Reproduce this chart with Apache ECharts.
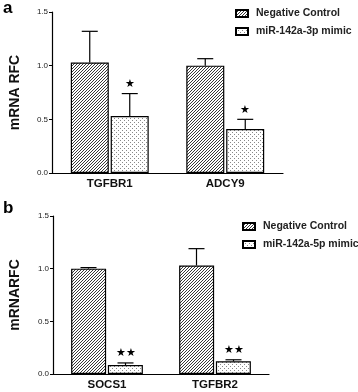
<!DOCTYPE html>
<html><head><meta charset="utf-8">
<script src="https://cdn.jsdelivr.net/npm/echarts@6/dist/echarts.min.js"></script>
<style>html,body{margin:0;padding:0;background:#fff}#c{width:358px;height:392px}</style>
</head><body><div id="c"></div>
<script>
// ---- data ----
var catsA = ['TGFBR1', 'ADCY9'];
var negA = [1.03, 1.00];
var negAErr = [1.32, 1.065];
var mimA = [0.53, 0.41];
var mimAErr = [0.74, 0.50];
var starsA = ['★', '★'];

var catsB = ['SOCS1', 'TGFBR2'];
var negB = [1.00, 1.03];
var negBErr = [1.01, 1.19];
var mimB = [0.085, 0.12];
var mimBErr = [0.105, 0.135];
var starsB = ['★★', '★★'];

var yTicks = [0, 0.5, 1.0, 1.5];
var seriesNames = ['Negative Control', 'miR-142a-3p mimic', 'miR-142a-5p mimic'];

// ---- patterns ----
function hatchCanvas() {
  var c = document.createElement('canvas'); c.width = 3; c.height = 3;
  var g = c.getContext('2d');
  g.fillStyle = '#fff'; g.fillRect(0, 0, 3, 3);
  g.strokeStyle = '#222'; g.lineWidth = 0.9;
  g.beginPath();
  g.moveTo(-1, 4); g.lineTo(4, -1);
  g.moveTo(-1, 1); g.lineTo(1, -1);
  g.moveTo(2, 4); g.lineTo(4, 2);
  g.stroke();
  return c;
}
function dotCanvas() {
  var c = document.createElement('canvas'); c.width = 4; c.height = 4;
  var g = c.getContext('2d');
  g.fillStyle = '#fff'; g.fillRect(0, 0, 4, 4);
  g.fillStyle = '#888';
  g.fillRect(0, 0, 1, 1); g.fillRect(2, 2, 1, 1);
  return c;
}
var hatch = { image: hatchCanvas(), repeat: 'repeat' };
var dots = { image: dotCanvas(), repeat: 'repeat' };

var FONT = 'Liberation Sans, Arial, sans-serif';

function errSeries(grid, vals, errs, side, bw, stars) {
  var data = vals.map(function (v, i) { return [i, v, errs[i]]; });
  return {
    type: 'custom', xAxisIndex: grid, yAxisIndex: grid, silent: true, z: 5,
    data: data,
    renderItem: function (params, api) {
      var i = api.value(0);
      var base = api.coord([i, api.value(1)]);
      var top = api.coord([i, api.value(2)]);
      var x = base[0] + side * (bw / 2 + 1);
      var cap = 8;
      var children = [
        { type: 'line', shape: { x1: x, y1: base[1], x2: x, y2: top[1] }, style: { stroke: '#000', lineWidth: 1.2 } },
        { type: 'line', shape: { x1: x - cap, y1: top[1], x2: x + cap, y2: top[1] }, style: { stroke: '#000', lineWidth: 1.2 } }
      ];
      if (stars) {
        children.push({ type: 'text', style: { text: stars[params.dataIndex], x: x, y: top[1] - 4, align: 'center', verticalAlign: 'bottom', fontSize: 11, fill: '#000', font: '11px ' + FONT } });
      }
      return { type: 'group', children: children };
    }
  };
}

var yAxisCommon = {
  type: 'value', min: 0, max: 1.5, interval: 0.5,
  nameLocation: 'middle', nameRotate: 90,
  nameTextStyle: { fontFamily: FONT, fontWeight: 'bold', fontSize: 14, color: '#111' },
  axisLine: { show: true, lineStyle: { color: '#000', width: 1.2 } },
  axisTick: { show: true, length: 3, lineStyle: { color: '#000' } },
  axisLabel: { fontFamily: FONT, fontSize: 8, color: '#222', margin: 4, formatter: function (v) { return v.toFixed(1); } },
  splitLine: { show: false }
};
var xAxisCommon = {
  type: 'category',
  axisLine: { lineStyle: { color: '#000', width: 1.2 } },
  axisTick: { alignWithLabel: true, length: 3, lineStyle: { color: '#000' } },
  axisLabel: { fontFamily: FONT, fontWeight: 'bold', fontSize: 11.5, color: '#111', margin: 5 }
};
var legendCommon = {
  orient: 'vertical', itemWidth: 12, itemHeight: 7, itemGap: 7, padding: 0,
  textStyle: { fontFamily: FONT, fontWeight: 'bold', fontSize: 10.5, color: '#222', padding: [0, 0, 0, 3] },
  icon: 'rect', selectedMode: false
};
var barBorder = { borderColor: '#000', borderWidth: 1.2 };

var option = {
  animation: false,
  backgroundColor: '#fff',
  graphic: [
    { type: 'text', left: 3, top: 0, style: { text: 'a', font: 'bold 17px ' + FONT, fill: '#000' } },
    { type: 'text', left: 3, top: 200, style: { text: 'b', font: 'bold 17px ' + FONT, fill: '#000' } }
  ],
  grid: [
    { left: 47, right: 75, top: 12, bottom: 219 },
    { left: 48, right: 89, top: 216, bottom: 18 }
  ],
  legend: [
    Object.assign({ left: 235, top: 8, data: [seriesNames[0], seriesNames[1]] }, legendCommon),
    Object.assign({ left: 242, top: 221, data: [seriesNames[0], seriesNames[2]] }, legendCommon)
  ],
  xAxis: [
    Object.assign({ gridIndex: 0, data: catsA }, xAxisCommon),
    Object.assign({ gridIndex: 1, data: catsB }, xAxisCommon)
  ],
  yAxis: [
    Object.assign({ gridIndex: 0, name: 'mRNA RFC', nameGap: 30 }, yAxisCommon),
    Object.assign({ gridIndex: 1, name: 'mRNARFC', nameGap: 31 }, yAxisCommon)
  ],
  series: [
    { name: seriesNames[0], type: 'bar', xAxisIndex: 0, yAxisIndex: 0, data: negA, barWidth: 38, barGap: '5%', itemStyle: Object.assign({ color: hatch }, barBorder) },
    { name: seriesNames[1], type: 'bar', xAxisIndex: 0, yAxisIndex: 0, data: mimA, barWidth: 38, barGap: '5%', itemStyle: Object.assign({ color: dots }, barBorder) },
    errSeries(0, negA, negAErr, -1, 38, null),
    errSeries(0, mimA, mimAErr, 1, 38, starsA),
    { name: seriesNames[0], type: 'bar', xAxisIndex: 1, yAxisIndex: 1, data: negB, barWidth: 35, barGap: '5%', itemStyle: Object.assign({ color: hatch }, barBorder) },
    { name: seriesNames[2], type: 'bar', xAxisIndex: 1, yAxisIndex: 1, data: mimB, barWidth: 35, barGap: '5%', itemStyle: Object.assign({ color: dots }, barBorder) },
    errSeries(1, negB, negBErr, -1, 35, null),
    errSeries(1, mimB, mimBErr, 1, 35, starsB)
  ]
};
var chart = echarts.init(document.getElementById('c'), null, { renderer: 'canvas' });
chart.setOption(option);
</script></body></html>
